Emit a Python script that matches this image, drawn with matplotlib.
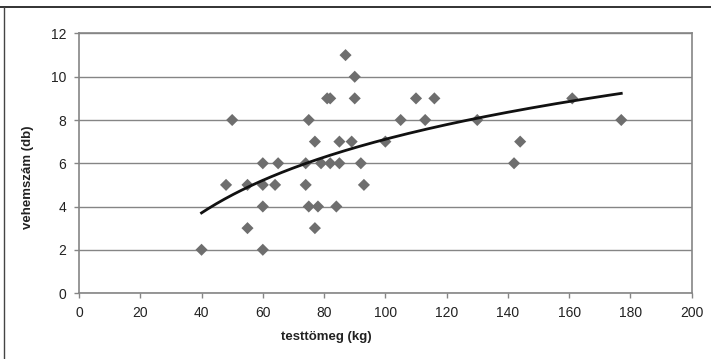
import numpy as np
import matplotlib.pyplot as plt
from matplotlib.lines import Line2D

# testtömeg (kg) és vehemszám (db)
testtomeg = [40, 50, 48, 55, 55, 60, 60, 60, 60, 65, 64,
             75, 74, 74, 75, 77, 77, 78, 79, 81, 82, 82,
             84, 85, 85, 87, 89, 90, 90, 92, 93, 100,
             105, 110, 113, 116, 130, 142, 144, 161, 177]
vehemszam = [2, 8, 5, 5, 3, 6, 5, 4, 2, 6, 5,
             8, 6, 5, 4, 7, 3, 4, 6, 9, 9, 6,
             4, 7, 6, 11, 7, 10, 9, 6, 5, 7,
             8, 9, 8, 9, 8, 6, 7, 9, 8]

x = np.array(testtomeg, dtype=float)
y = np.array(vehemszam, dtype=float)

# logaritmikus trendvonal (mint Excelben)
b, a = np.polyfit(np.log(x), y, 1)
xt = np.linspace(x.min(), x.max(), 200)
yt = a + b * np.log(xt)

plt.rcParams['font.family'] = ['Liberation Sans', 'DejaVu Sans']

fig = plt.figure(figsize=(7.11, 3.59), dpi=100)
ax = fig.add_axes([0.1111, 0.1838, 0.8618, 0.7229])

gray = '#858585'
ax.set_axisbelow(True)
ax.grid(axis='y', color=gray, lw=1.0)
ax.scatter(x, y, marker='D', s=38, color='#6e6e6e', edgecolors='none', zorder=3)
ax.plot(xt, yt, color='#111111', lw=2.0, zorder=4)

ax.set_xlim(0, 200)
ax.set_ylim(0, 12)
ax.set_xticks(np.arange(0, 201, 20))
ax.set_yticks(np.arange(0, 13, 2))
for sp in ax.spines.values():
    sp.set_color(gray)
    sp.set_linewidth(1.2)
ax.tick_params(axis='both', direction='out', length=3.5, width=1.0, color=gray,
               labelsize=10, labelcolor='#222222', pad=5.5)

ax.set_xlabel('testtömeg (kg)', fontsize=9.5, fontweight='bold', color='#222222')
ax.xaxis.set_label_coords(0.403, -0.148)
ax.set_ylabel('vehemszám (db)', fontsize=9.5, fontweight='bold', color='#222222')
ax.yaxis.set_label_coords(-0.0734, 0.447)

# keret a kép tetején és bal oldalán
fig.add_artist(Line2D([0, 1], [0.9805, 0.9805], transform=fig.transFigure,
                      color='#222222', lw=1.3))
fig.add_artist(Line2D([0.0056, 0.0056], [0, 0.9805], transform=fig.transFigure,
                      color='#444444', lw=1.0))

fig.savefig('out.png', dpi=100)
